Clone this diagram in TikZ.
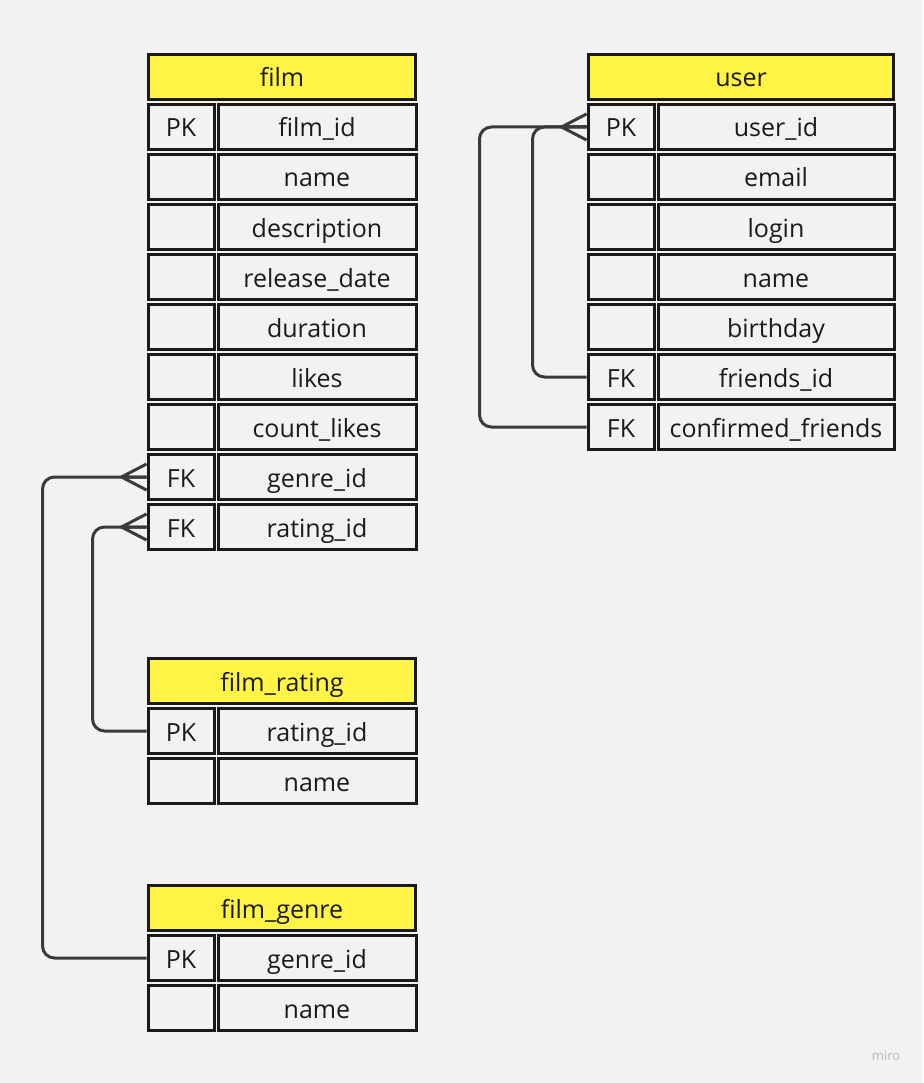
\documentclass[tikz,border=0pt]{standalone}
\usepackage{fontspec}
\setmainfont{Open Sans}
\definecolor{bg}{HTML}{F2F2F2}
\definecolor{headyellow}{HTML}{FFF345}
\definecolor{ink}{HTML}{1A1A1A}
\definecolor{wire}{HTML}{3A3A3A}
\tikzset{
  cell/.style={draw=ink, line width=3pt, fill=bg, text=ink, inner sep=0pt,
    minimum height=45pt, text height=22pt, text depth=2pt,
    font=\fontsize{25}{30}\selectfont},
  keycell/.style={cell, minimum width=66pt},
  headcell/.style={cell, fill=headyellow},
  link/.style={draw=wire, line width=3pt, rounded corners=12pt},
  crowfoot/.pic={\draw[draw=wire, line width=3pt] (0,-13) -- (-25,0) -- (0,13) (-25,0) -- (0,0);}
}
\begin{document}
\begin{tikzpicture}[x=1pt, y=-1pt]
    \fill[bg] (0,0) rectangle (923,1083);
    \useasboundingbox (0,0) rectangle (923,1083);

    % film
    \node[headcell, minimum width=267pt] (film-h) at (282,77) {film};
    \foreach \i/\k/\n in {1/PK/film\_id, 2//name, 3//description, 4//release\_date,
        5//duration, 6//likes, 7//count\_likes, 8/FK/genre\_id, 9/FK/rating\_id} {
        \node[keycell] (film-k\i) at (181,{77+50*\i}) {\k};
        \node[cell, minimum width=198pt] (film-n\i) at (317,{77+50*\i}) {\n};
    }

    % user
    \node[headcell, minimum width=305pt] (user-h) at (741,77) {user};
    \foreach \i/\k/\n in {1/PK/user\_id, 2//email, 3//login, 4//name,
        5//birthday, 6/FK/friends\_id, 7/FK/confirmed\_friends} {
        \node[keycell] (user-k\i) at (621,{77+50*\i}) {\k};
        \node[cell, minimum width=236pt] (user-n\i) at (776,{77+50*\i}) {\n};
    }

    % film_rating
    \node[headcell, minimum width=267pt] (rating-h) at (282,681) {film\_rating};
    \foreach \i/\k/\n in {1/PK/rating\_id, 2//name} {
        \node[keycell] (rating-k\i) at (181,{681+50*\i}) {\k};
        \node[cell, minimum width=198pt] (rating-n\i) at (317,{681+50*\i}) {\n};
    }

    % film_genre
    \node[headcell, minimum width=267pt] (genre-h) at (282,908) {film\_genre};
    \foreach \i/\k/\n in {1/PK/genre\_id, 2//name} {
        \node[keycell] (genre-k\i) at (181,{908+50*\i}) {\k};
        \node[cell, minimum width=198pt] (genre-n\i) at (317,{908+50*\i}) {\n};
    }

    % links
    \draw[link] (film-k8.west) -- ++(-104,0) |- (genre-k1.west);
    \draw[link] (film-k9.west) -- ++(-54,0) |- (rating-k1.west);
    \draw[link] (user-k6.west) -- ++(-54,0) |- (user-k1.west);
    \draw[link] (user-k7.west) -- ++(-107,0) |- (user-k1.west);
    \pic at (film-k8.west) {crowfoot};
    \pic at (film-k9.west) {crowfoot};
    \pic at (user-k1.west) {crowfoot};

    \node[text=gray!55, font=\fontsize{13}{15}\selectfont] (miro) at (886,1056) {miro};
\end{tikzpicture}
\end{document}
